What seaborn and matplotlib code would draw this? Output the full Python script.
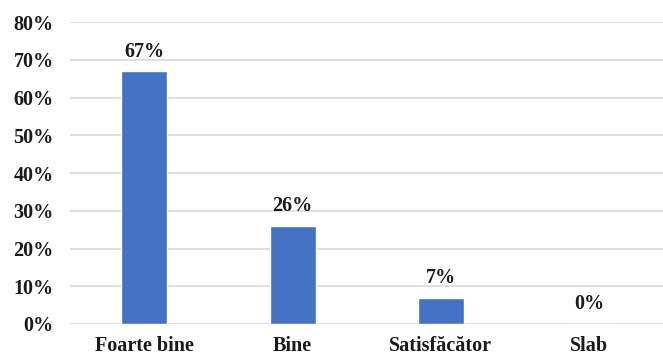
import matplotlib
matplotlib.use("Agg")
import matplotlib.pyplot as plt
import seaborn as sns
import pandas as pd

categories = ["Foarte bine", "Bine", "Satisfăcător", "Slab"]
values = [67, 26, 7, 0]
value_labels = ["67%", "26%", "7%", "0%"]
y_ticks = [0, 10, 20, 30, 40, 50, 60, 70, 80]

sns.set_theme(style="white")
plt.rcParams['font.family'] = ['Liberation Serif', 'DejaVu Serif']

df = pd.DataFrame({"cat": categories, "val": values})

FS = 14.5

fig = plt.figure(figsize=(6.63, 3.58), dpi=100)
ax = fig.add_axes([0.106, 0.095, 0.894, 0.843])
sns.barplot(data=df, x="cat", y="val", color="#4472C4", width=0.31,
            saturation=1, ax=ax, zorder=3)

ax.set_ylim(0, 80)
ax.set_yticks(y_ticks)
ax.set_yticklabels([f"{t}%" for t in y_ticks], fontsize=FS, fontweight="bold")
ax.set_xticklabels(categories, fontsize=FS, fontweight="bold")
ax.tick_params(axis="both", length=0, colors="#1a1a1a")
ax.tick_params(axis="y", pad=12)
ax.tick_params(axis="x", pad=9)
ax.set_xlabel("")
ax.set_ylabel("")
ax.grid(axis="y", color="#D9D9D9", linewidth=1.2, zorder=0)
ax.set_axisbelow(True)
for s in ax.spines.values():
    s.set_visible(False)

for p, lab in zip(ax.patches, value_labels):
    ax.annotate(lab, (p.get_x() + p.get_width() / 2, p.get_height()),
                xytext=(0, 7), textcoords="offset points", ha="center",
                va="bottom", fontsize=FS, fontweight="bold", color="#1a1a1a")

fig.savefig("out.png", dpi=100)
